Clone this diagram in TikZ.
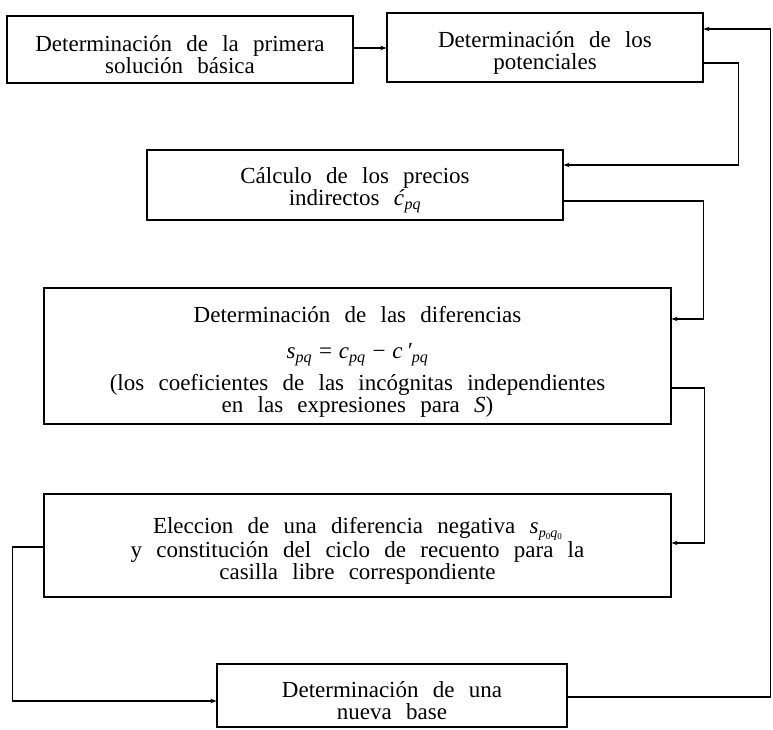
\documentclass[tikz,border=0pt]{standalone}
\usepackage{fontspec}
\setmainfont{Liberation Serif}
\usetikzlibrary{arrows.meta}
\newcommand{\bxf}{\fontsize{23}{22}\selectfont\spaceskip=0.62em\relax}
\newcommand{\vi}[2]{\textit{#1}\textsubscript{\textit{#2}}}
\newcommand{\tp}{\rule{0pt}{26pt}}
\newcommand{\szero}{\raisebox{-2pt}{\fontsize{9}{9}\selectfont 0}}
\tikzset{
  box/.style={draw, line width=1.1pt, align=center, inner sep=0pt, font=\bxf},
  arr/.style={line width=1.1pt, -{Stealth[length=6pt,width=4.5pt]}}
}
\begin{document}
\begin{tikzpicture}[x=1pt,y=1pt]
\useasboundingbox (0,0) rectangle (773,-730);
\node[box, minimum width=346pt, minimum height=67pt] (b1) at (180,-49.5)
  {\tp Determinación de la primera\\solución básica};
\node[box, minimum width=316pt, minimum height=69pt] (b2) at (545,-47.5)
  {\tp Determinación de los\\potenciales};
\node[box, minimum width=416pt, minimum height=70pt] (b3) at (355,-185)
  {\tp Cálculo de los precios\\indirectos \vi{ć}{pq}};
\node[box, minimum width=627pt, minimum height=136pt] (b4) at (357.5,-356)
  {\rule{0pt}{28pt}Determinación de las diferencias\\[14pt]{\spaceskip=0.3em\relax\vi{s}{pq} = \vi{c}{pq} − \vi{c\,′}{pq}}\\[7pt](los coeficientes de las incógnitas independientes\\en las expresiones para \textit{S})};
\node[box, minimum width=627pt, minimum height=103pt] (b5) at (357.5,-545.5)
  {\tp Eleccion de una diferencia negativa \textit{s}\kern0.5pt\raisebox{-4pt}{\fontsize{14}{14}\selectfont\textit{p}\szero\textit{q}\szero}\\y constitución del ciclo de recuento para la\\casilla libre correspondiente};
\node[box, minimum width=350pt, minimum height=63pt] (b6) at (392,-695.5)
  {\tp Determinación de una\\nueva base};

\draw[arr] ([yshift=1.5pt]b1.east) -- ([yshift=-0.5pt]b2.west);
\draw[arr] ([yshift=-15.5pt]b2.east) -- ++(35pt,0) |- ([yshift=20pt]b3.east);
\draw[arr] ([yshift=-16pt]b3.east) -- ++(140pt,0) |- ([yshift=37pt]b4.east);
\draw[arr] ([yshift=-32pt]b4.east) -- ++(33pt,0) |- ([yshift=2.5pt]b5.east);
\draw[arr] ([yshift=-1.5pt]b5.west) -- ++(-31pt,0) |- ([yshift=-5.5pt]b6.west);
\draw[arr] ([yshift=-1.5pt]b6.east) -- ++(203pt,0) |- ([yshift=18.5pt]b2.east);
\end{tikzpicture}
\end{document}
